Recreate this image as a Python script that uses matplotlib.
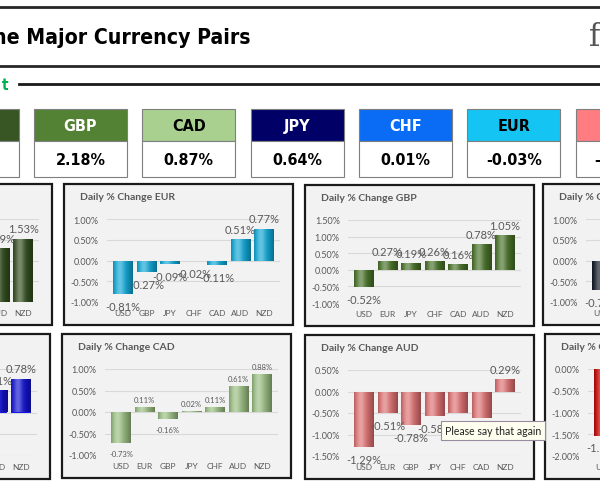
import matplotlib.pyplot as plt
import matplotlib.patches as mpatches
import matplotlib.colors as mcolors
import numpy as np
from matplotlib import font_manager

# overall % change tiles, strongest to weakest
tile_names = ["USD", "GBP", "CAD", "JPY", "CHF", "EUR", "AUD", "NZD"]
tile_values = [6.47, 2.18, 0.87, 0.64, 0.01, -0.03, -3.99, -6.14]

# daily % change of each currency against the others
usd_cats = ["EUR", "GBP", "JPY", "CHF", "CAD", "AUD", "NZD"]
usd_vals = [0.81, 0.52, 0.71, 0.88, 0.73, 1.29, 1.53]
eur_cats = ["USD", "GBP", "JPY", "CHF", "CAD", "AUD", "NZD"]
eur_vals = [-0.81, -0.27, -0.09, -0.02, -0.11, 0.51, 0.77]
gbp_cats = ["USD", "EUR", "JPY", "CHF", "CAD", "AUD", "NZD"]
gbp_vals = [-0.52, 0.27, 0.19, 0.26, 0.16, 0.78, 1.05]
jpy_cats = ["USD", "EUR", "GBP", "CHF", "CAD", "AUD", "NZD"]
jpy_vals = [-0.71, 0.09, -0.19, 0.05, -0.02, 0.58, 0.84]
chf_cats = ["USD", "EUR", "GBP", "JPY", "CAD", "AUD", "NZD"]
chf_vals = [-0.88, 0.02, -0.26, -0.05, -0.11, 0.51, 0.78]
cad_cats = ["USD", "EUR", "GBP", "JPY", "CHF", "AUD", "NZD"]
cad_vals = [-0.73, 0.11, -0.16, 0.02, 0.11, 0.61, 0.88]
aud_cats = ["USD", "EUR", "GBP", "JPY", "CHF", "CAD", "NZD"]
aud_vals = [-1.29, -0.51, -0.78, -0.58, -0.51, -0.61, 0.29]
nzd_cats = ["USD", "EUR", "GBP", "JPY", "CHF", "CAD", "AUD"]
nzd_vals = [-1.53, -0.77, -1.05, -0.84, -0.78, -0.88, -0.29]

W, H = 600, 502
GREY = "#595959"

names = {f.name for f in font_manager.fontManager.ttflist}
if "Liberation Sans Narrow" in names:
    HEAVY = dict(family="Liberation Sans Narrow", weight="bold")
else:
    HEAVY = dict(family="DejaVu Sans", weight="bold", stretch="condensed")
BODY = "Lato" if "Lato" in names else "DejaVu Sans"

fig = plt.figure(figsize=(W / 100, H / 100), dpi=100)
bg = fig.add_axes([0, 0, 1, 1])
bg.set_xlim(0, W)
bg.set_ylim(H, 0)
bg.axis("off")

# header
bg.plot([0, W], [8, 8], color="#262626", lw=2)
bg.plot([0, W], [67, 67], color="#262626", lw=2)
bg.text(250, 38, "the Major Currency Pairs", ha="right", va="center",
        fontsize=15.2, color="black", **HEAVY)
bg.text(589, 38, "f", ha="left", va="center", fontsize=22,
        family="DejaVu Serif", color="#555555")
bg.text(9, 85, "t", ha="right", va="center", fontsize=11,
        color="#00b050", **HEAVY)
bg.plot([19, W], [85, 85], color="#1a1a1a", lw=2)

# currency tiles
tile_colors = ["#375623", "#548235", "#a9d08e", "#000066", "#0a6cf5",
               "#14c4f2", "#ff7c80", "#e00000"]
tile_text = ["white", "white", "black", "white", "white", "black", "black", "white"]
for i, (n, v) in enumerate(zip(tile_names, tile_values)):
    x = 34 + 108.3 * (i - 1)
    bg.add_patch(mpatches.Rectangle((x, 110), 93, 32, fc=tile_colors[i],
                                    ec="#7f7f7f", lw=0.8))
    bg.add_patch(mpatches.Rectangle((x, 142), 93, 36, fc="white",
                                    ec="#7f7f7f", lw=0.8))
    bg.text(x + 46.5, 126.5, n, ha="center", va="center", fontsize=11.5,
            color=tile_text[i], **HEAVY)
    bg.text(x + 46.5, 161, f"{v:.2f}%", ha="center", va="center",
            fontsize=11.5, color="black", **HEAVY)


def shade(ax, bars, color):
    base = np.array(mcolors.to_rgb(color))
    t = np.linspace(0, 1, 40)
    light = 0.35 * np.exp(-((t - 0.35) / 0.22) ** 2)
    dark = 0.4 * t ** 2 + 0.25 * (1 - t) ** 6
    rgb = base * (1 - dark)[:, None] + (1 - base) * light[:, None]
    img = np.clip(rgb, 0, 1)[None, :, :]
    for b in bars:
        x0, y0 = b.get_x(), b.get_y()
        im = ax.imshow(img, extent=(x0, x0 + b.get_width(), y0, y0 + b.get_height()),
                       aspect="auto", zorder=2, interpolation="bilinear")
        im.set_clip_path(b)


def panel(name, cats, vals, lo, hi, left, top, h, color, lsize=8):
    bg.add_patch(mpatches.Rectangle((left, top), 229, h, fc="#f2f2f2",
                                    ec="#1a1a1a", lw=1.6))
    bg.text(left + 16, top + 13, f"Daily % Change {name}", ha="left", va="center",
            fontsize=7.5, weight="bold", color=GREY, family=BODY)
    ax = fig.add_axes([(left + 43) / W, 1 - (top + h - 23) / H, 173 / W, (h - 58) / H])
    ax.set_facecolor("none")
    x = np.arange(len(cats))
    bars = ax.bar(x, vals, width=0.84, color=color, zorder=2)
    shade(ax, bars, color)
    for i, v in zip(x, vals):
        ax.annotate(f"{v:.2f}%", (i, v), xytext=(0, 3 if v >= 0 else -5),
                    textcoords="offset points", ha="center",
                    va="bottom" if v >= 0 else "top", fontsize=lsize,
                    color=GREY, family=BODY, zorder=4)
    ax.set_xlim(-0.68, 6.68)
    ax.set_ylim(lo, hi)
    ax.set_yticks(np.arange(lo, hi + 0.01, 0.5))
    ax.set_yticklabels([f"{t:.2f}%" for t in np.arange(lo, hi + 0.01, 0.5)],
                       family=BODY, fontsize=6.5, color=GREY)
    ax.set_xticks(x)
    ax.set_xticklabels(cats, family=BODY, fontsize=6, color=GREY)
    ax.tick_params(length=0, pad=5)
    ax.tick_params(axis="y", pad=6)
    ax.grid(axis="y", color="#d9d9d9", lw=0.8, zorder=1)
    for s in ax.spines.values():
        s.set_visible(False)
    return ax


panel("USD", usd_cats, usd_vals, 0, 2.0, -177, 185, 141, "#385723")
panel("EUR", eur_cats, eur_vals, -1.0, 1.0, 64, 185, 141, "#12b8ec")
panel("GBP", gbp_cats, gbp_vals, -1.0, 1.5, 305, 186, 141, "#4f7d2c")
panel("JPY", jpy_cats, jpy_vals, -1.0, 1.0, 543, 185, 141, "#101626")
panel("CHF", chf_cats, chf_vals, -1.0, 1.0, -179, 335, 145, "#1414e6")
panel("CAD", cad_cats, cad_vals, -1.0, 1.0, 62, 335, 144, "#a9d08e", lsize=5.5)
panel("AUD", aud_cats, aud_vals, -1.5, 0.5, 305, 336, 144, "#f47c7e")
panel("NZD", nzd_cats, nzd_vals, -2.0, 0.0, 545, 335, 145, "#d90000")

# tooltip over the AUD chart
fig.text(445 / W, 1 - 431.5 / H, "Please say that again", ha="left", va="center",
         fontsize=7.6, color="#222222", family=BODY, zorder=10,
         bbox=dict(boxstyle="square,pad=0.35", fc="#fffff0", ec="#9a8aa0", lw=0.8))

fig.savefig("out.png", dpi=100)
